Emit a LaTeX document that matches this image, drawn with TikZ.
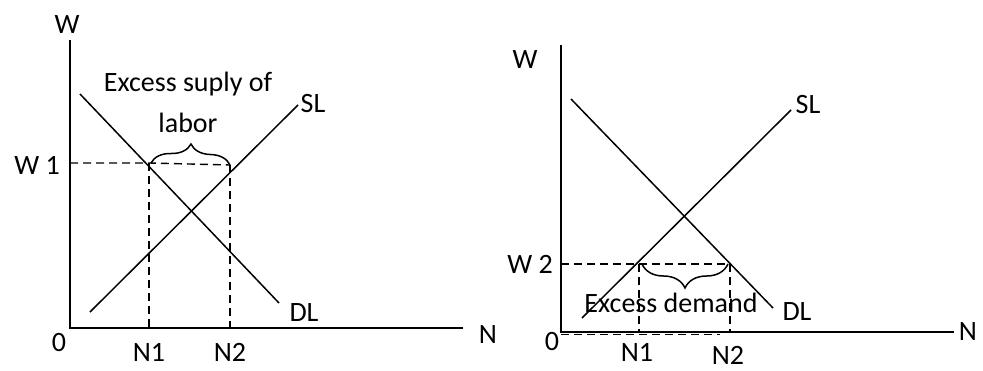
\documentclass[tikz,border=0pt]{standalone}
\usepackage{fontspec}
\setmainfont{Carlito}
\usetikzlibrary{decorations.pathreplacing}

\begin{document}
\begin{tikzpicture}[x=1pt, y=-1pt,
    axis/.style={line width=2pt},
    curve/.style={line width=1.5pt},
    guide/.style={line width=1.4pt, dash pattern=on 8pt off 5pt},
    lbl/.style={font=\fontsize{28}{32}\selectfont, inner sep=0pt},
    brc/.style={decorate, line width=1.5pt}
]
    \useasboundingbox (0,0) rectangle (983,370);

    % Left panel: excess supply of labor
    \coordinate (ltop) at (70,40);
    \coordinate (lo) at (70,328);
    \coordinate (lend) at (463,328);
    \coordinate (ldl1) at (80,94);
    \coordinate (ldl2) at (279,303);
    \coordinate (lsl1) at (90,312);
    \coordinate (lsl2) at (298,105);
    \coordinate (lw) at (70,163);
    \coordinate (la) at (149,163);
    \coordinate (lb) at (230,165);
    \coordinate (lna) at (149,328);
    \coordinate (lnb) at (230,328);

    \draw[axis] (ltop) -- (lo) -- (lend);
    \draw[curve] (ldl1) -- (ldl2);
    \draw[curve] (lsl1) -- (lsl2);
    \draw[guide] (lw) -- (la) -- (lb);
    \draw[guide] (la) -- (lna);
    \draw[guide] (lb) -- (lnb);
    \draw[brc, decoration={brace, amplitude=20pt}] ([xshift=2pt]la) -- (lb);

    \node[lbl] (lW) at (67,25) {W};
    \node[lbl] (l0) at (59,343) {0};
    \node[lbl] (lN) at (488,335) {N};
    \node[lbl] (lW1) at (37,165) {W 1};
    \node[lbl] (lN1) at (149,352) {N1};
    \node[lbl] (lN2) at (230,352) {N2};
    \node[lbl] (lSL) at (313,104) {SL};
    \node[lbl] (lDL) at (304,313) {DL};
    \node[lbl, anchor=base] (lex) at (188,91) {Excess suply of};
    \node[lbl, anchor=base] (llab) at (188,132) {labor};

    % Right panel: excess demand
    \coordinate (rtop) at (561,45);
    \coordinate (ro) at (561,332);
    \coordinate (rend) at (954,332);
    \coordinate (rdl1) at (571,99);
    \coordinate (rdl2) at (773,308);
    \coordinate (rsl1) at (582,318);
    \coordinate (rsl2) at (791,110);
    \coordinate (rw) at (561,264);
    \coordinate (ra) at (639,264);
    \coordinate (rb) at (730,264);
    \coordinate (rna) at (639,332);
    \coordinate (rnb) at (730,332);

    \draw[axis] (rtop) -- (ro) -- (rend);
    \draw[curve] (rdl1) -- (rdl2);
    \draw[curve] (rsl1) -- (rsl2);
    \draw[guide] (rw) -- (rb);
    \draw[guide] (ra) -- (rna);
    \draw[guide] (rb) -- (rnb);
    \draw[guide] ([yshift=-2.5pt]ro) -- ([xshift=-10pt,yshift=-2.5pt]rnb);
    \draw[brc, decoration={brace, amplitude=24pt, mirror}] ([xshift=3pt]ra) -- ([xshift=-2pt]rb);

    \node[lbl] (rW) at (525,60) {W};
    \node[lbl] (r0) at (552,342) {0};
    \node[lbl] (rN) at (968,332) {N};
    \node[lbl] (rW2) at (530,264) {W 2};
    \node[lbl] (rN1) at (637,352) {N1};
    \node[lbl] (rN2) at (728,355) {N2};
    \node[lbl] (rSL) at (808,105) {SL};
    \node[lbl] (rDL) at (797,312) {DL};
    \node[lbl, anchor=base] (rex) at (671,312) {Excess demand};
\end{tikzpicture}
\end{document}
